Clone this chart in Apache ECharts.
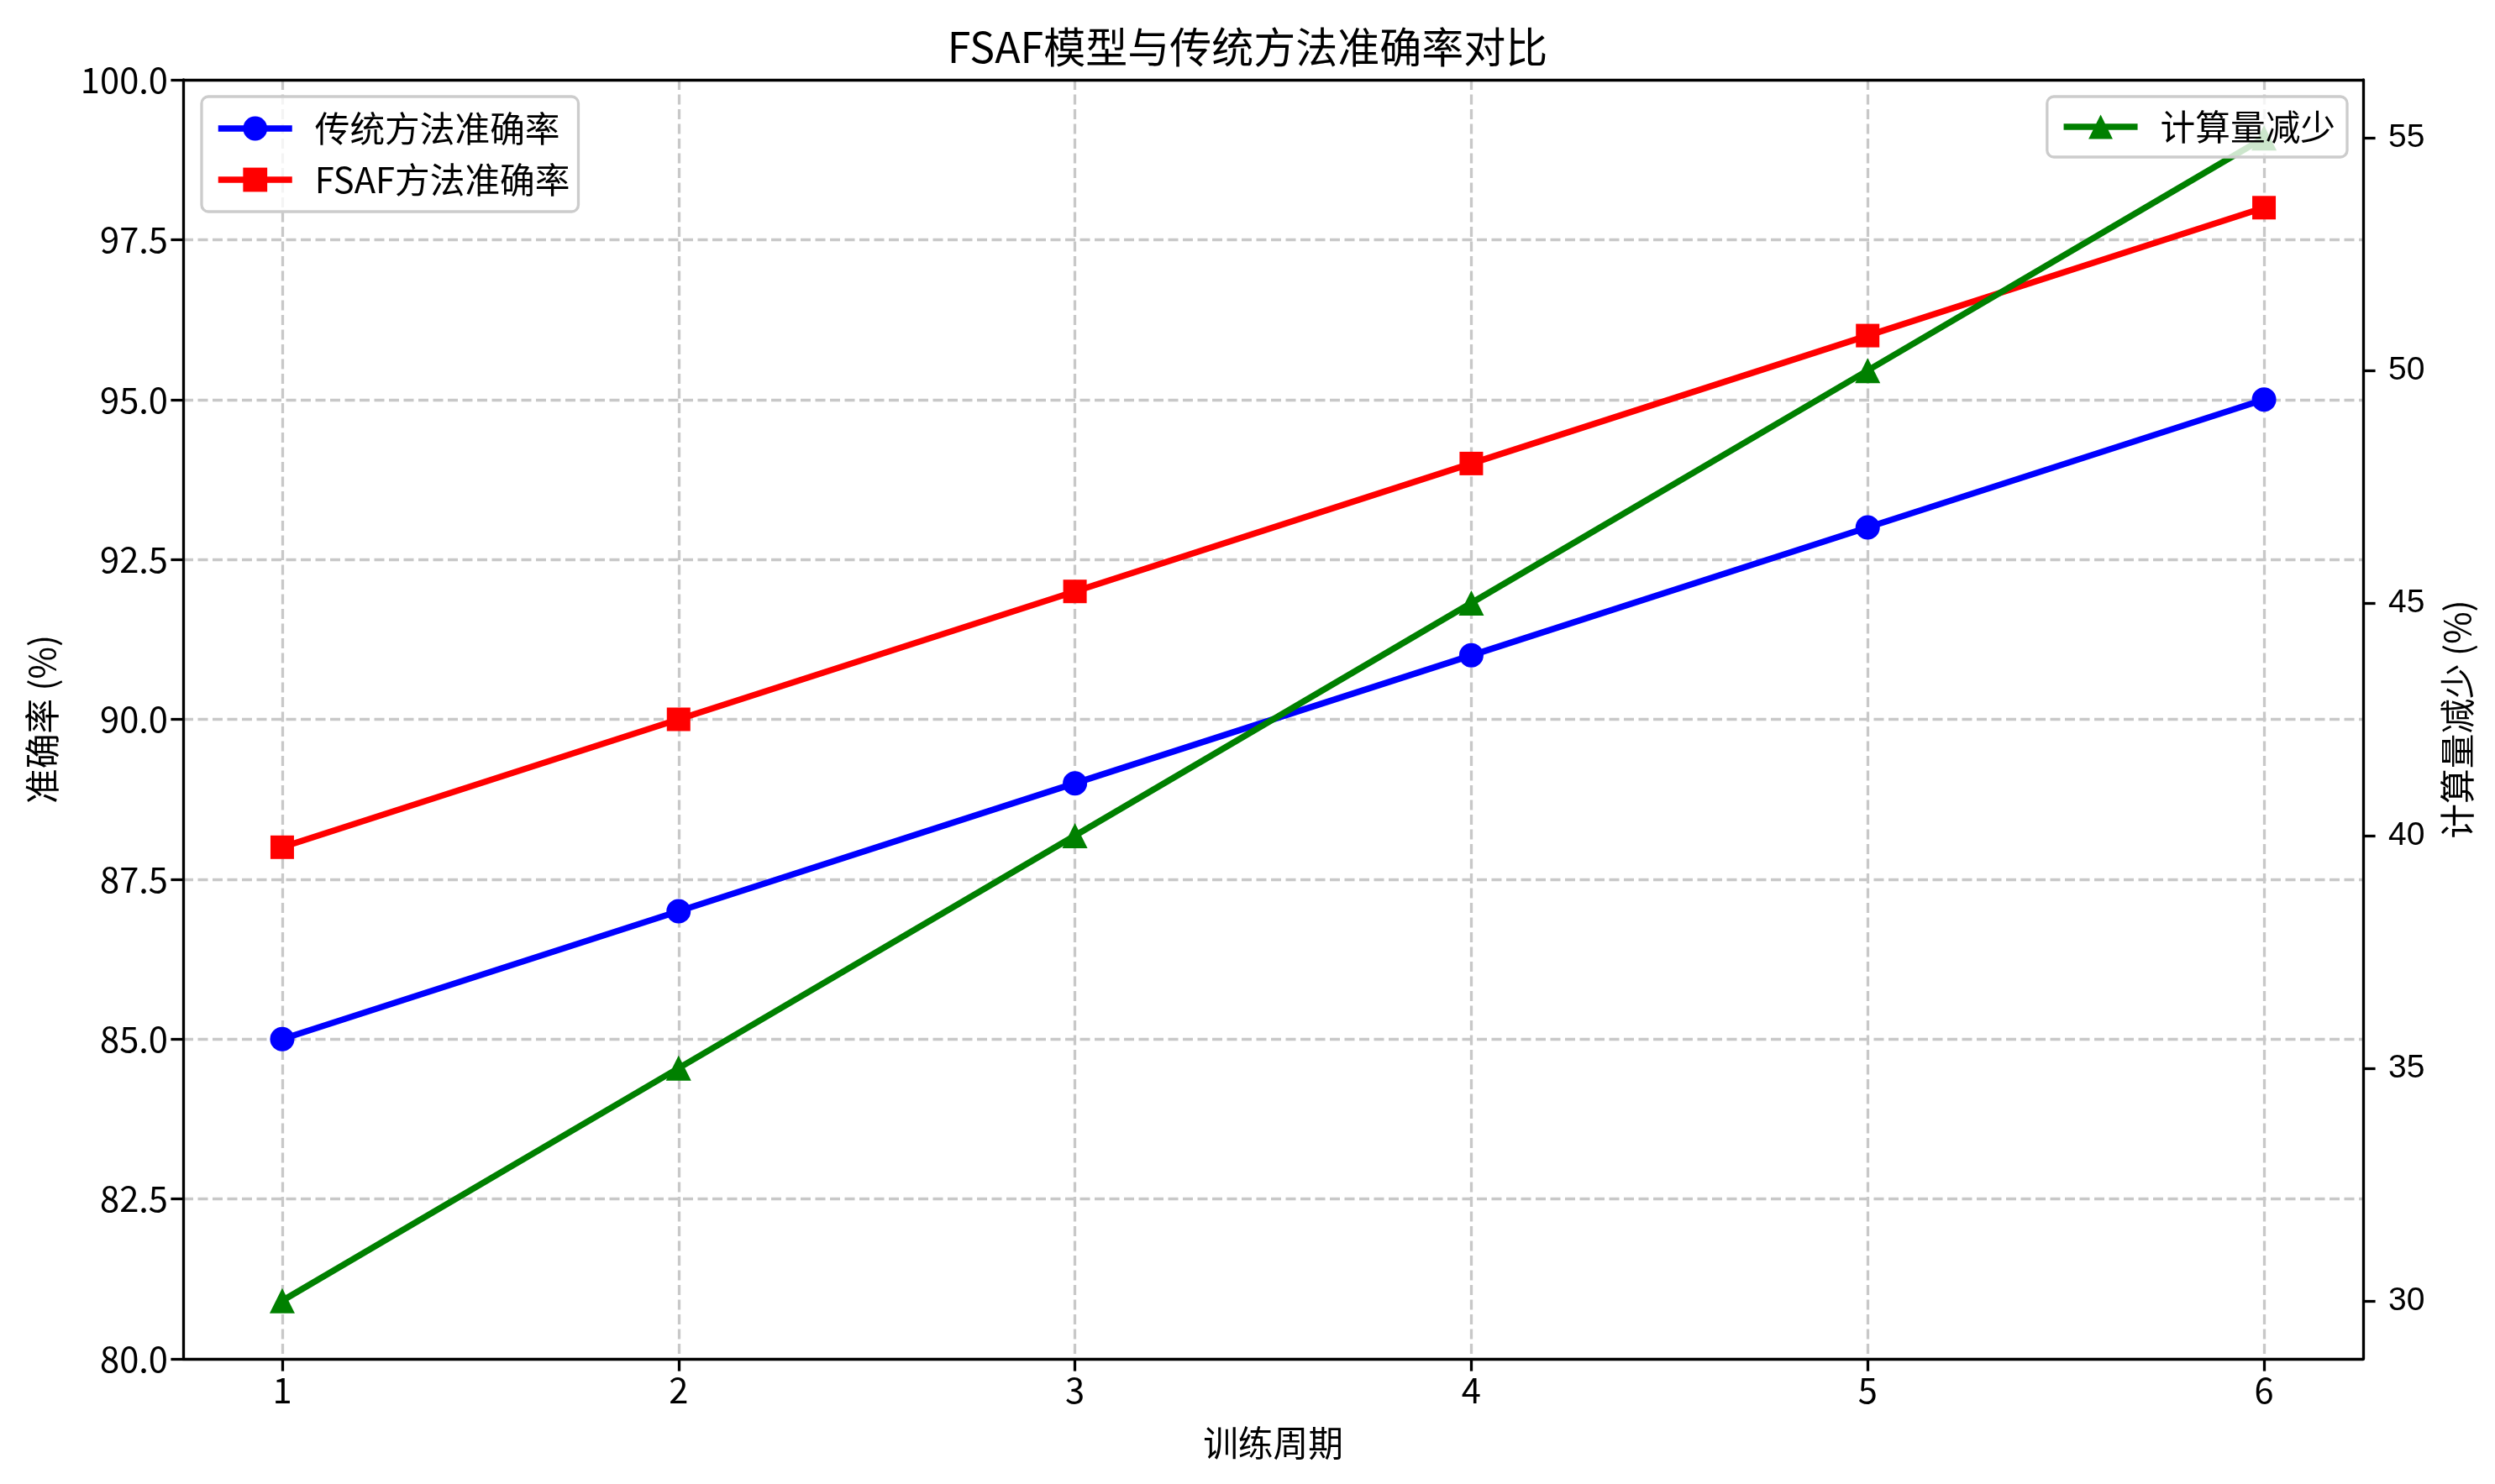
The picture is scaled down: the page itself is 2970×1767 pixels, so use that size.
<!DOCTYPE html>
<html>
<head>
<meta charset="utf-8">
<script src="https://cdn.jsdelivr.net/npm/echarts@6/dist/echarts.min.js"></script>
<style>
html,body{margin:0;padding:0;background:#fff;}
#chart{width:2970px;height:1767px;}
</style>
</head>
<body>
<div id="chart"></div>
<script>
const epochs = [1, 2, 3, 4, 5, 6];
const traditionalAcc = [85, 87, 89, 91, 93, 95];
const fsafAcc = [88, 90, 92, 94, 96, 98];
const computeReduction = [30, 35, 40, 45, 50, 55];
const leftTicks = [80, 82.5, 85, 87.5, 90, 92.5, 95, 97.5, 100];
const rightTicks = [30, 35, 40, 45, 50, 55];
const xTicks = [1, 2, 3, 4, 5, 6];

const CJK = '"Noto Sans CJK SC", "Noto Sans", sans-serif';
const pair = arr => epochs.map((e, i) => [e, arr[i]]);

const chart = echarts.init(document.getElementById('chart'), null, {renderer: 'canvas'});
const spineW = 3.3;
const gridDash = {color: '#c8c8c8', width: 3.3, type: [12, 5.5]};
const legendText = {fontFamily: CJK, fontSize: 41.7, color: '#000', lineHeight: 42, padding: [0, 0, 0, 22]};

chart.setOption({
  backgroundColor: '#ffffff',
  animation: false,
  title: {
    text: 'FSAF模型与传统方法准确率对比',
    left: 'center',
    top: 26,
    textStyle: {fontFamily: CJK, fontSize: 50, fontWeight: 'normal', color: '#000'}
  },
  grid: {
    left: 218, right: 157, top: 95, bottom: 149,
    show: false
  },
  legend: [
    {
      data: ['传统方法准确率', 'FSAF方法准确率'],
      orient: 'vertical',
      left: 240, top: 115, z: 10,
      itemWidth: 88, itemHeight: 36, itemGap: 19,
      padding: [17, 10, 17, 16],
      backgroundColor: 'rgba(255,255,255,0.8)',
      borderColor: '#cccccc', borderWidth: 3.3, borderRadius: 8,
      lineStyle: {width: 7.5},
      textStyle: legendText
    },
    {
      data: ['计算量减少'],
      orient: 'vertical',
      right: 176, top: 115, z: 10,
      itemWidth: 88, itemHeight: 36,
      padding: [15, 14, 15, 16],
      backgroundColor: 'rgba(255,255,255,0.8)',
      borderColor: '#cccccc', borderWidth: 3.3, borderRadius: 8,
      lineStyle: {width: 7.5},
      textStyle: legendText
    }
  ],
  xAxis: [
    {
      type: 'value', min: 0.75, max: 6.25, position: 'bottom',
      name: '训练周期', nameLocation: 'middle', nameGap: 79,
      nameTextStyle: {fontFamily: CJK, fontSize: 41.7, color: '#000'},
      axisLine: {show: true, lineStyle: {color: '#000', width: spineW}},
      axisTick: {show: true, customValues: xTicks, length: 14.6, lineStyle: {color: '#000', width: spineW}},
      axisLabel: {customValues: xTicks, margin: 16, fontFamily: CJK, fontSize: 41.7, color: '#000', formatter: v => String(v)},
      splitLine: {show: true, customValues: xTicks, lineStyle: gridDash}
    },
    {
      type: 'value', min: 0.75, max: 6.25, position: 'top',
      axisLine: {show: true, onZero: false, lineStyle: {color: '#000', width: spineW}},
      axisTick: {show: false}, axisLabel: {show: false}, splitLine: {show: false}
    }
  ],
  yAxis: [
    {
      type: 'value', min: 80, max: 100, interval: 2.5, position: 'left',
      name: '准确率 (%)', nameLocation: 'middle', nameGap: 147, nameRotate: 90,
      nameTextStyle: {fontFamily: CJK, fontSize: 41.7, color: '#000'},
      axisLine: {show: true, lineStyle: {color: '#000', width: spineW}},
      axisTick: {show: true, length: 14.6, lineStyle: {color: '#000', width: spineW}},
      axisLabel: {margin: 18, fontFamily: CJK, fontSize: 41.7, color: '#000', formatter: v => v.toFixed(1)},
      splitLine: {show: true, showMinLine: false, showMaxLine: false, lineStyle: gridDash}
    },
    {
      type: 'value', min: 28.75, max: 56.25, position: 'right',
      name: '计算量减少 (%)', nameLocation: 'middle', nameGap: 91, nameRotate: 90,
      nameTextStyle: {fontFamily: CJK, fontSize: 41.7, color: '#000'},
      axisLine: {show: true, lineStyle: {color: '#000', width: spineW}},
      axisTick: {show: true, customValues: rightTicks, length: 14.6, lineStyle: {color: '#000', width: spineW}},
      axisLabel: {customValues: rightTicks, margin: 30, fontFamily: '"Liberation Sans", Arial, sans-serif', fontSize: 39, color: '#000', formatter: v => String(v)},
      splitLine: {show: false}
    }
  ],
  series: [
    {
      name: '传统方法准确率', type: 'line', yAxisIndex: 0,
      data: pair(traditionalAcc),
      symbol: 'circle', symbolSize: 29,
      lineStyle: {color: '#0000ff', width: 7.5},
      itemStyle: {color: '#0000ff'}, z: 3
    },
    {
      name: 'FSAF方法准确率', type: 'line', yAxisIndex: 0,
      data: pair(fsafAcc),
      symbol: 'rect', symbolSize: 28,
      lineStyle: {color: '#ff0000', width: 7.5},
      itemStyle: {color: '#ff0000'}, z: 3
    },
    {
      name: '计算量减少', type: 'line', yAxisIndex: 1,
      data: pair(computeReduction),
      symbol: 'triangle', symbolSize: 30,
      lineStyle: {color: '#008000', width: 7.5},
      itemStyle: {color: '#008000'}, z: 4
    }
  ]
});
</script>
</body>
</html>
